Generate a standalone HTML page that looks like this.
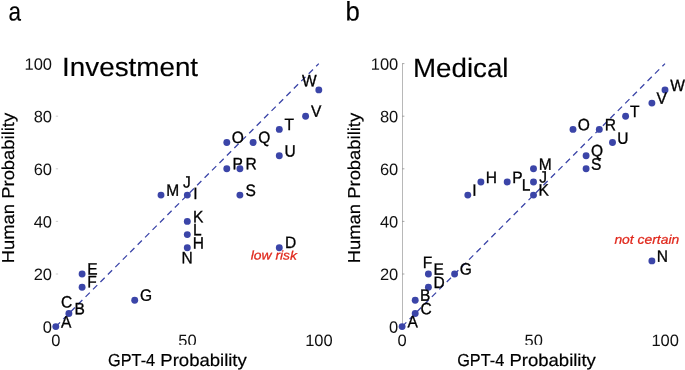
<!DOCTYPE html>
<html><head><meta charset="utf-8"><title>Figure</title>
<style>
html,body{margin:0;padding:0;background:#fff;}
svg{display:block;}
text{font-family:"Liberation Sans",sans-serif;fill:#000;text-rendering:geometricPrecision;}
.t{font-size:16.5px;fill:#111;}
.te{text-anchor:end;}
.tm{text-anchor:middle;}
.l{font-size:16.5px;fill:#000;stroke:#000;stroke-width:0.32px;}
.ax{font-size:17.3px;stroke:#000;stroke-width:0.2px;}
.ti{font-size:26.5px;stroke:#000;stroke-width:0.15px;}
.pn{font-size:26px;stroke:#000;stroke-width:0.2px;}
.an{font-size:12.6px;font-style:italic;fill:#e0281c;stroke:#e0281c;stroke-width:0.25px;}
</style></head>
<body>
<svg width="685" height="370" viewBox="0 0 685 370">
<rect width="685" height="370" fill="#fff"/>
<g>
<text class="pn" transform="translate(8.60 20.40) rotate(0.04)" textLength="12.5" lengthAdjust="spacingAndGlyphs" style="font-size:26.5px">a</text>
<text class="ti" transform="translate(62.10 75.90) rotate(0.04)" textLength="136.0" lengthAdjust="spacingAndGlyphs">Investment</text>
<line x1="55.8" y1="274.0" x2="58.1" y2="274.0" stroke="#c0c0c0" stroke-width="0.8"/>
<line x1="55.8" y1="221.4" x2="58.1" y2="221.4" stroke="#c0c0c0" stroke-width="0.8"/>
<line x1="55.8" y1="168.8" x2="58.1" y2="168.8" stroke="#c0c0c0" stroke-width="0.8"/>
<line x1="55.8" y1="116.2" x2="58.1" y2="116.2" stroke="#c0c0c0" stroke-width="0.8"/>
<text class="t te" transform="translate(52.00 332.70) rotate(0.04)">0</text>
<text class="t te" transform="translate(52.00 280.10) rotate(0.04)">20</text>
<text class="t te" transform="translate(52.00 227.50) rotate(0.04)">40</text>
<text class="t te" transform="translate(52.00 174.90) rotate(0.04)">60</text>
<text class="t te" transform="translate(52.00 122.30) rotate(0.04)">80</text>
<text class="t te" transform="translate(52.00 69.70) rotate(0.04)">100</text>
<text class="t tm" transform="translate(55.90 346.10) rotate(0.04)">0</text>
<text class="t tm" transform="translate(187.40 346.10) rotate(0.04)">50</text>
<text class="t tm" transform="translate(318.90 346.10) rotate(0.04)">100</text>
<rect x="104.9" y="344.8" width="146" height="25.2" fill="#fff"/>
<line x1="55.8" y1="326.6" x2="318.8" y2="63.6" stroke="#3b45a8" stroke-width="1.3" stroke-dasharray="6 4.52"/>
<circle cx="55.8" cy="326.6" r="3.45" fill="#3b45a8"/>
<circle cx="68.9" cy="313.5" r="3.45" fill="#3b45a8"/>
<circle cx="82.1" cy="274.0" r="3.45" fill="#3b45a8"/>
<circle cx="82.1" cy="287.2" r="3.45" fill="#3b45a8"/>
<circle cx="134.7" cy="300.3" r="3.45" fill="#3b45a8"/>
<circle cx="187.3" cy="247.7" r="3.45" fill="#3b45a8"/>
<circle cx="187.3" cy="234.6" r="3.45" fill="#3b45a8"/>
<circle cx="187.3" cy="221.4" r="3.45" fill="#3b45a8"/>
<circle cx="187.3" cy="195.1" r="3.45" fill="#3b45a8"/>
<circle cx="161.0" cy="195.1" r="3.45" fill="#3b45a8"/>
<circle cx="226.8" cy="142.5" r="3.45" fill="#3b45a8"/>
<circle cx="253.1" cy="142.5" r="3.45" fill="#3b45a8"/>
<circle cx="226.8" cy="168.8" r="3.45" fill="#3b45a8"/>
<circle cx="239.9" cy="168.8" r="3.45" fill="#3b45a8"/>
<circle cx="239.9" cy="195.1" r="3.45" fill="#3b45a8"/>
<circle cx="279.3" cy="129.4" r="3.45" fill="#3b45a8"/>
<circle cx="279.3" cy="155.7" r="3.45" fill="#3b45a8"/>
<circle cx="305.6" cy="116.2" r="3.45" fill="#3b45a8"/>
<circle cx="318.8" cy="89.9" r="3.45" fill="#3b45a8"/>
<circle cx="279.3" cy="247.7" r="3.45" fill="#3b45a8"/>
<text class="l" transform="translate(61.02 327.60) rotate(0.04) scale(0.94 1)">A</text>
<text class="l" transform="translate(74.46 314.20) rotate(0.04) scale(0.94 1)">B</text>
<text class="l" transform="translate(61.12 307.40) rotate(0.04) scale(0.94 1)">C</text>
<text class="l" transform="translate(87.36 274.50) rotate(0.04) scale(0.94 1)">E</text>
<text class="l" transform="translate(87.36 287.20) rotate(0.04) scale(0.94 1)">F</text>
<text class="l" transform="translate(140.12 300.70) rotate(0.04) scale(0.94 1)">G</text>
<text class="l" transform="translate(192.86 248.40) rotate(0.04) scale(0.94 1)">H</text>
<text class="l" transform="translate(181.56 263.30) rotate(0.04) scale(0.94 1)">N</text>
<text class="l" transform="translate(192.96 235.30) rotate(0.04) scale(0.94 1)">L</text>
<text class="l" transform="translate(192.96 222.20) rotate(0.04) scale(0.94 1)">K</text>
<text class="l" transform="translate(193.30 199.00) rotate(0.04) scale(0.94 1)">I</text>
<text class="l" transform="translate(182.97 187.60) rotate(0.04) scale(0.94 1)">J</text>
<text class="l" transform="translate(166.26 195.80) rotate(0.04) scale(0.94 1)">M</text>
<text class="l" transform="translate(245.40 196.00) rotate(0.04) scale(0.94 1)">S</text>
<text class="l" transform="translate(285.06 247.90) rotate(0.04) scale(0.94 1)">D</text>
<text class="l" transform="translate(231.70 142.90) rotate(0.04) scale(0.94 1)">O</text>
<text class="l" transform="translate(258.20 142.90) rotate(0.04) scale(0.94 1)">Q</text>
<text class="l" transform="translate(284.51 130.10) rotate(0.04) scale(0.94 1)">T</text>
<text class="l" transform="translate(310.92 116.80) rotate(0.04) scale(0.94 1)">V</text>
<text class="l" transform="translate(284.54 156.60) rotate(0.04) scale(0.94 1)">U</text>
<text class="l" transform="translate(232.46 169.30) rotate(0.04) scale(0.94 1)">P</text>
<text class="l" transform="translate(245.46 169.30) rotate(0.04) scale(0.94 1)">R</text>
<text class="l" transform="translate(302.12 86.30) rotate(0.04) scale(0.94 1)">W</text>
<text class="an" transform="translate(250.70 259.60) rotate(0.04)" textLength="46.3" lengthAdjust="spacingAndGlyphs">low risk</text>
<text class="ax" transform="translate(108.09 365.90) rotate(0.04)" textLength="47.00" lengthAdjust="spacingAndGlyphs" style="font-size:17.3px;">GPT-4</text>
<text class="ax" transform="translate(160.32 365.90) rotate(0.04)" textLength="86.45" lengthAdjust="spacingAndGlyphs" style="font-size:17.3px;">Probability</text>
<text class="ax" transform="translate(13.80 263.27) rotate(-90)" textLength="150.47" lengthAdjust="spacingAndGlyphs" style="font-size:17.3px;">Human Probability</text>
</g>
<g>
<text class="pn" transform="translate(345.50 20.40) rotate(0.04)" textLength="14.3" lengthAdjust="spacingAndGlyphs" style="font-size:26.8px">b</text>
<text class="ti" transform="translate(413.00 77.00) rotate(0.04)" textLength="95.5" lengthAdjust="spacingAndGlyphs">Medical</text>
<line x1="402.50" y1="63.6" x2="402.50" y2="326.6" stroke="#b0b0b0" stroke-width="0.9"/>
<line x1="402.1" y1="274.0" x2="404.4" y2="274.0" stroke="#909090" stroke-width="0.8"/>
<line x1="402.1" y1="221.4" x2="404.4" y2="221.4" stroke="#909090" stroke-width="0.8"/>
<line x1="402.1" y1="168.8" x2="404.4" y2="168.8" stroke="#909090" stroke-width="0.8"/>
<line x1="402.1" y1="116.2" x2="404.4" y2="116.2" stroke="#909090" stroke-width="0.8"/>
<line x1="402.1" y1="63.6" x2="404.4" y2="63.6" stroke="#909090" stroke-width="0.8"/>
<text class="t te" transform="translate(398.25 332.70) rotate(0.04)">0</text>
<text class="t te" transform="translate(398.25 280.10) rotate(0.04)">20</text>
<text class="t te" transform="translate(398.25 227.50) rotate(0.04)">40</text>
<text class="t te" transform="translate(398.25 174.90) rotate(0.04)">60</text>
<text class="t te" transform="translate(398.25 122.30) rotate(0.04)">80</text>
<text class="t te" transform="translate(398.25 69.70) rotate(0.04)">100</text>
<text class="t tm" transform="translate(402.15 346.10) rotate(0.04)">0</text>
<text class="t tm" transform="translate(533.65 346.10) rotate(0.04)">50</text>
<text class="t tm" transform="translate(665.15 346.10) rotate(0.04)">100</text>
<rect x="454.0" y="344.8" width="146" height="25.2" fill="#fff"/>
<line x1="402.1" y1="326.6" x2="665.0" y2="63.6" stroke="#3b45a8" stroke-width="1.3" stroke-dasharray="6 4.52"/>
<circle cx="402.1" cy="326.6" r="3.45" fill="#3b45a8"/>
<circle cx="415.2" cy="313.5" r="3.45" fill="#3b45a8"/>
<circle cx="415.2" cy="300.3" r="3.45" fill="#3b45a8"/>
<circle cx="428.4" cy="287.2" r="3.45" fill="#3b45a8"/>
<circle cx="428.4" cy="274.0" r="3.45" fill="#3b45a8"/>
<circle cx="454.6" cy="274.0" r="3.45" fill="#3b45a8"/>
<circle cx="467.8" cy="195.1" r="3.45" fill="#3b45a8"/>
<circle cx="480.9" cy="182.0" r="3.45" fill="#3b45a8"/>
<circle cx="507.2" cy="182.0" r="3.45" fill="#3b45a8"/>
<circle cx="533.5" cy="182.0" r="3.45" fill="#3b45a8"/>
<circle cx="533.5" cy="168.8" r="3.45" fill="#3b45a8"/>
<circle cx="533.5" cy="195.1" r="3.45" fill="#3b45a8"/>
<circle cx="573.0" cy="129.4" r="3.45" fill="#3b45a8"/>
<circle cx="599.3" cy="129.4" r="3.45" fill="#3b45a8"/>
<circle cx="586.1" cy="155.7" r="3.45" fill="#3b45a8"/>
<circle cx="586.1" cy="168.8" r="3.45" fill="#3b45a8"/>
<circle cx="612.5" cy="142.5" r="3.45" fill="#3b45a8"/>
<circle cx="625.6" cy="116.2" r="3.45" fill="#3b45a8"/>
<circle cx="651.9" cy="103.1" r="3.45" fill="#3b45a8"/>
<circle cx="665.0" cy="89.9" r="3.45" fill="#3b45a8"/>
<circle cx="651.9" cy="260.9" r="3.45" fill="#3b45a8"/>
<text class="l" transform="translate(407.62 327.30) rotate(0.04) scale(0.94 1)">A</text>
<text class="l" transform="translate(420.42 314.20) rotate(0.04) scale(0.94 1)">C</text>
<text class="l" transform="translate(420.06 300.80) rotate(0.04) scale(0.94 1)">B</text>
<text class="l" transform="translate(433.56 287.90) rotate(0.04) scale(0.94 1)">D</text>
<text class="l" transform="translate(433.56 274.70) rotate(0.04) scale(0.94 1)">E</text>
<text class="l" transform="translate(422.86 268.10) rotate(0.04) scale(0.94 1)">F</text>
<text class="l" transform="translate(459.72 274.40) rotate(0.04) scale(0.94 1)">G</text>
<text class="l" transform="translate(472.20 195.80) rotate(0.04) scale(0.94 1)">I</text>
<text class="l" transform="translate(485.76 182.90) rotate(0.04) scale(0.94 1)">H</text>
<text class="l" transform="translate(512.36 182.90) rotate(0.04) scale(0.94 1)">P</text>
<text class="l" transform="translate(521.66 190.60) rotate(0.04) scale(0.94 1)">L</text>
<text class="l" transform="translate(539.17 182.60) rotate(0.04) scale(0.94 1)">J</text>
<text class="l" transform="translate(538.76 169.70) rotate(0.04) scale(0.94 1)">M</text>
<text class="l" transform="translate(538.46 195.50) rotate(0.04) scale(0.94 1)">K</text>
<text class="l" transform="translate(577.80 130.30) rotate(0.04) scale(0.94 1)">O</text>
<text class="l" transform="translate(604.86 130.30) rotate(0.04) scale(0.94 1)">R</text>
<text class="l" transform="translate(630.01 116.90) rotate(0.04) scale(0.94 1)">T</text>
<text class="l" transform="translate(656.42 103.80) rotate(0.04) scale(0.94 1)">V</text>
<text class="l" transform="translate(670.22 90.90) rotate(0.04) scale(0.94 1)">W</text>
<text class="l" transform="translate(617.34 143.70) rotate(0.04) scale(0.94 1)">U</text>
<text class="l" transform="translate(591.10 156.20) rotate(0.04) scale(0.94 1)">Q</text>
<text class="l" transform="translate(591.10 169.70) rotate(0.04) scale(0.94 1)">S</text>
<text class="l" transform="translate(656.66 261.80) rotate(0.04) scale(0.94 1)">N</text>
<text class="an" transform="translate(614.40 243.80) rotate(0.04)" textLength="64.8" lengthAdjust="spacingAndGlyphs">not certain</text>
<text class="ax" transform="translate(457.19 365.90) rotate(0.04)" textLength="47.00" lengthAdjust="spacingAndGlyphs" style="font-size:17.3px;">GPT-4</text>
<text class="ax" transform="translate(509.42 365.90) rotate(0.04)" textLength="86.45" lengthAdjust="spacingAndGlyphs" style="font-size:17.3px;">Probability</text>
<text class="ax" transform="translate(360.05 263.27) rotate(-90)" textLength="150.47" lengthAdjust="spacingAndGlyphs" style="font-size:17.3px;">Human Probability</text>
</g>
</svg>
</body></html>
